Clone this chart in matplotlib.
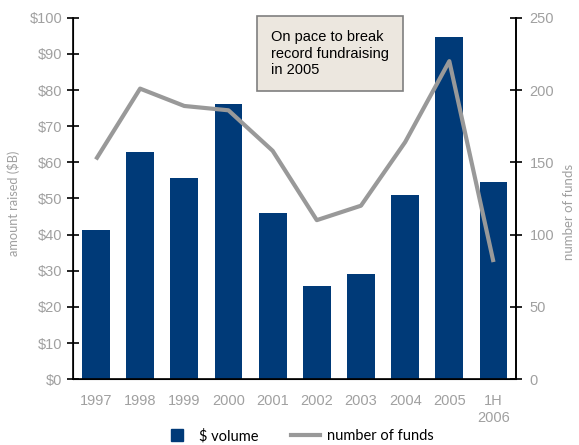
import matplotlib.pyplot as plt
from matplotlib.lines import Line2D

years = ['1997', '1998', '1999', '2000', '2001', '2002', '2003', '2004', '2005', '1H\n2006']
volume = [41.3, 62.9, 55.7, 76.2, 46.0, 25.8, 29.1, 51.0, 94.7, 54.6]   # $B
num_funds = [152, 201, 189, 186, 158, 110, 120, 164, 220, 81]

navy = '#003a78'
grey_line = '#999999'
grey_txt = '#a0a0a0'

plt.rcParams['font.family'] = ['Liberation Sans', 'DejaVu Sans']

fig = plt.figure(figsize=(5.79, 4.45), dpi=100)
ax = fig.add_axes([0.126, 0.148, 0.766, 0.812])
x = list(range(len(years)))

ax.bar(x, volume, width=0.63, color=navy, zorder=2)
ax.set_xlim(-0.52, 9.52)
ax.set_ylim(0, 100)
ax.set_yticks(range(0, 101, 10))
ax.set_yticklabels(['$%d' % v for v in range(0, 101, 10)])
ax.set_xticks(x)
ax.set_xticklabels(years)
ax.tick_params(axis='y', direction='inout', length=9, width=1.2, pad=3,
               labelsize=10.5, labelcolor=grey_txt)
ax.tick_params(axis='x', length=0, pad=11, labelsize=10.5, labelcolor=grey_txt)
ax.spines['top'].set_visible(False)
for s in ('left', 'right', 'bottom'):
    ax.spines[s].set_linewidth(1.2)
    ax.spines[s].set_color('black')

ax2 = ax.twinx()
ax2.plot(x, num_funds, color=grey_line, lw=3, solid_capstyle='butt', zorder=3)
ax2.set_ylim(0, 250)
ax2.set_yticks(range(0, 251, 50))
ax2.tick_params(axis='y', direction='inout', length=9, width=1.2, pad=5,
                labelsize=10.5, labelcolor=grey_txt)
ax2.spines['top'].set_visible(False)
ax2.spines['right'].set_linewidth(1.2)

fig.text(0.023, 0.544, 'amount raised ($B)', rotation=90, ha='center', va='center',
         fontsize=9.2, color=grey_txt, family=['Lato', 'DejaVu Sans'])
fig.text(0.982, 0.524, 'number of funds', rotation=90, ha='center', va='center',
         fontsize=9.5, color=grey_txt, family=['Lato', 'DejaVu Sans'])

# callout box
fig.text(0.468, 0.933, 'On pace to break\nrecord fundraising\nin 2005', ha='left', va='top',
         fontsize=10.5, color='black', linespacing=1.25,
         bbox=dict(boxstyle='square,pad=0.95', facecolor='#ece7df', edgecolor='#7f7f7f', lw=1.2))

handles = [Line2D([0], [0], marker='s', color='none', markerfacecolor=navy,
                  markeredgecolor=navy, markersize=9),
           Line2D([0], [0], color=grey_line, lw=3)]
fig.legend(handles, ['$ volume', 'number of funds'], loc='center', bbox_to_anchor=(0.515, 0.02),
           ncol=2, frameon=False, handlelength=2.0, handletextpad=0.5,
           columnspacing=2.2, prop={'family': ['Lato', 'DejaVu Sans'], 'size': 10.5})

fig.savefig('out.png', dpi=100)
